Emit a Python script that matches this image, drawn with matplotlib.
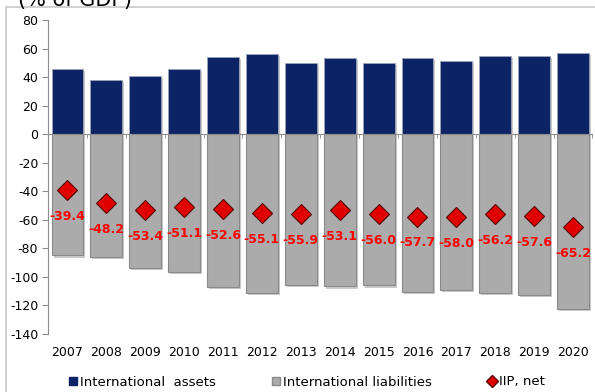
import numpy as np
import matplotlib
matplotlib.use("Agg")
import matplotlib.pyplot as plt
import matplotlib.patheffects as pe
from matplotlib.lines import Line2D
from matplotlib.patches import Rectangle

years = [2007, 2008, 2009, 2010, 2011, 2012, 2013, 2014, 2015, 2016, 2017, 2018, 2019, 2020]
assets = [45.6, 37.8, 40.6, 45.7, 54.3, 55.9, 50.0, 53.6, 50.0, 53.1, 51.0, 54.8, 54.8, 57.2]
liabilities = [-85.0, -86.0, -94.0, -96.8, -106.9, -111.0, -105.9, -106.7, -106.0, -110.8, -109.0, -111.0, -112.4, -122.4]
iip_net = [-39.4, -48.2, -53.4, -51.1, -52.6, -55.1, -55.9, -53.1, -56.0, -57.7, -58.0, -56.2, -57.6, -65.2]

navy = "#0c2466"
grey = "#ababab"
red = "#e00000"

plt.rcParams["font.family"] = "DejaVu Sans"
plt.rcParams["axes.unicode_minus"] = False

fig = plt.figure(figsize=(5.95, 3.92), dpi=100)
ax = fig.add_axes([0.0807, 0.148, 0.915, 0.801])

x = np.arange(len(years))
shadow = [pe.SimplePatchShadow(offset=(1.5, -1.5), shadow_rgbFace="#bdbdbd", alpha=0.8), pe.Normal()]
b1 = ax.bar(x, assets, width=0.82, color=navy, edgecolor="#9aa3b8", linewidth=0.6, zorder=2)
b2 = ax.bar(x, liabilities, width=0.82, color=grey, edgecolor="#8a8a8a", linewidth=0.8, zorder=2)
for b in list(b1) + list(b2):
    b.set_path_effects(shadow)

ax.plot(x, iip_net, linestyle="none", marker="D", markersize=10.5, color=red,
        markeredgecolor="#5a0000", markeredgewidth=0.8, zorder=4)
for xi, v in zip(x, iip_net):
    ax.annotate(f"{v:.1f}", (xi, v), xytext=(0, -19), textcoords="offset points",
                ha="center", va="center", color="#ff0000", fontsize=9, fontweight="bold", zorder=5)

ax.set_xlim(-0.5, len(years) - 0.5)
ax.set_ylim(-140, 80)
ax.set_yticks(range(-140, 81, 20))
ax.tick_params(axis="y", labelsize=9, color="#8c8c8c", length=4, pad=3)

for s in ["top", "right"]:
    ax.spines[s].set_visible(False)
ax.spines["left"].set_color("#8c8c8c")
ax.spines["bottom"].set_position(("data", 0))
ax.spines["bottom"].set_color("#8c8c8c")
ax.set_xticks(x, labels=[""] * len(x))
ax.set_xticks(np.arange(-0.5, len(years), 1.0), minor=True)
ax.tick_params(axis="x", which="major", length=0)
ax.tick_params(axis="x", which="minor", length=3, color="#8c8c8c")

sec = ax.secondary_xaxis("bottom")
sec.set_xticks(x, labels=[str(y) for y in years])
sec.tick_params(length=0, labelsize=9, pad=9)
sec.spines["bottom"].set_visible(False)

fig.text(0.03, 0.985, "(% of GDP)", fontsize=15, va="baseline", ha="left")
fig.patches.append(Rectangle((0.01, -0.1), 1.2, 1.082, transform=fig.transFigure,
                             fill=False, edgecolor="#c8c8c8", linewidth=1.2))

handles = [
    Line2D([], [], linestyle="none", marker="s", markersize=6, color=navy),
    Line2D([], [], linestyle="none", marker="s", markersize=6, color=grey, markeredgecolor="#8a8a8a"),
    Line2D([], [], linestyle="none", marker="D", markersize=6, color=red, markeredgecolor="#5a0000"),
]
fig.legend(handles, ["International  assets", "International liabilities", "IIP, net"],
           loc="center", bbox_to_anchor=(0.515, 1 - 382 / 392), ncol=3, frameon=False,
           fontsize=9.5, handletextpad=0.1, columnspacing=4.2, handlelength=0.8)

fig.savefig("out.png", dpi=100)
